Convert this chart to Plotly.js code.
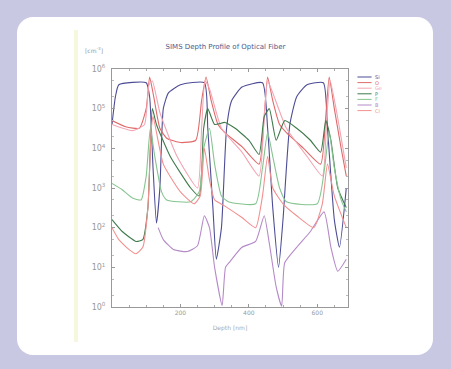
<!DOCTYPE html>
<html><head><meta charset="utf-8">
<script src="https://cdn.plot.ly/plotly-3.0.1.min.js"></script>
<style>
html,body{margin:0;padding:0;width:451px;height:369px;background:#c8c8e3;overflow:hidden}
#card{position:absolute;left:17px;top:17px;width:416px;height:338px;background:#fff;border-radius:16px}
#band{position:absolute;left:74px;top:30px;width:4px;height:312px;background:#f7f7de}
#chart{position:absolute;left:0;top:0;width:451px;height:369px}
</style></head>
<body>
<div id="card"></div><div id="band"></div>
<div id="chart"></div>
<script>
// Depth [nm] and concentration values
const siDepth = [0,10,20,100,110,120,130,140,150,165,200,270,280,295,305,320,335,350,380,440,455,470,487,500,520,540,570,618,630,650,665,685];
const siConc  = [4.0e4,2.0e5,4.0e5,4.5e5,2.0e5,3.2e3,1.3e2,1.0e3,1.0e5,2.5e5,4.0e5,4.5e5,3.2e4,3.2e2,1.6e1,1.0e2,3.2e4,1.6e5,3.5e5,4.5e5,3.2e4,3.2e2,1.0e1,1.6e2,4.0e4,2.0e5,4.0e5,4.5e5,3.2e4,1.6e2,3.2e1,1.0e3];

const oDepth = [0,40,80,100,110,122,140,160,200,245,262,275,290,310,330,380,430,445,455,470,490,510,560,610,625,635,650,670,685];
const oConc  = [5.0e4,3.5e4,3.2e4,1.0e5,6.3e5,2.0e5,3.2e4,1.8e4,1.4e4,1.6e4,1.6e5,6.3e5,1.6e5,4.0e4,2.5e4,1.1e4,4.0e3,6.3e4,6.3e5,1.6e5,4.0e4,2.5e4,1.0e4,4.0e3,6.3e4,6.3e5,1.0e5,1.0e4,2.0e3];

const geDepth = [0,60,95,108,118,140,190,250,262,272,285,320,380,430,445,455,470,510,570,615,628,638,655,685];
const geConc  = [4.0e4,2.8e4,4.0e4,4.0e5,5.0e5,8.0e4,6.3e3,1.0e3,3.2e4,5.0e5,3.2e5,3.2e4,8.0e3,2.0e3,6.3e4,5.0e5,2.5e5,3.2e4,6.3e3,2.0e3,6.3e4,5.0e5,1.0e5,3.2e3];

const pDepth = [0,30,70,90,105,112,118,130,170,230,255,268,280,300,330,360,400,430,445,460,480,505,540,580,610,625,640,660,685];
const pConc  = [1.6e2,8.0e1,4.5e1,5.0e1,3.2e2,1.0e4,1.0e5,4.0e4,6.3e3,1.0e3,6.3e2,3.2e4,1.0e5,4.0e4,4.5e4,3.2e4,1.6e4,7.0e3,6.3e4,1.0e5,1.6e4,5.0e4,3.2e4,1.6e4,8.0e3,5.0e4,1.6e4,1.0e3,3.2e2];

const fDepth = [0,30,60,85,100,112,125,145,160,230,255,268,285,300,320,340,420,440,455,470,490,510,600,620,635,650,670,685];
const fConc  = [1.3e3,9.0e2,5.6e2,5.0e2,2.0e3,3.2e4,6.3e3,8.0e2,5.0e2,4.5e2,8.0e2,1.0e4,3.2e4,4.0e3,6.3e2,4.5e2,4.0e2,3.2e3,2.5e4,6.3e3,1.0e3,4.5e2,4.0e2,2.5e3,2.5e4,3.2e3,5.0e2,2.5e2];

const bDepth = [135,150,180,220,250,270,285,300,322,332,345,380,420,445,460,480,496,505,540,580,620,640,660,685];
const bConc  = [1.0e2,5.0e1,2.8e1,2.5e1,3.5e1,2.0e2,1.0e2,1.0e1,1.1,1.0e1,1.4e1,3.2e1,4.5e1,2.0e2,4.0e1,3.2,1.05,1.3e1,3.2e1,8.0e1,2.5e2,3.2e1,8.0,1.6e1];

const clDepth = [0,20,50,70,90,105,115,120,150,200,240,258,270,285,300,330,380,420,440,455,470,500,540,590,615,630,650,685];
const clConc  = [1.0e2,5.0e1,2.8e1,2.2e1,3.2e1,3.2e2,3.2e4,6.3e4,4.0e3,8.0e2,4.0e2,6.3e2,1.0e4,1.6e3,5.0e2,3.5e2,1.8e2,1.0e2,6.3e2,6.3e3,1.0e3,4.0e2,2.0e2,1.0e2,4.0e2,4.0e3,6.3e2,1.0e2];

const seriesNames = ['Si','O','Ge','P','F','B','Cl'];
const seriesColors = ['#4d4d96','#e06a6a','#f2a6b4','#3f7a4c','#86c48f','#b58ac8','#f29090'];
const xTickVals = [200,400,600];
const xTickText = ['200','400','600'];
const yTickVals = [1,10,100,1000,10000,100000,1000000];
const yTickText = ['10<sup>0</sup>','10<sup>1</sup>','10<sup>2</sup>','10<sup>3</sup>','10<sup>4</sup>','10<sup>5</sup>','10<sup>6</sup>'];

const xs = [siDepth,oDepth,geDepth,pDepth,fDepth,bDepth,clDepth];
const ys = [siConc,oConc,geConc,pConc,fConc,bConc,clConc];
const traces = seriesNames.map((n,i)=>({
  type:'scatter', mode:'lines', name:n, x:xs[i], y:ys[i], showlegend:false,
  line:{color:seriesColors[i], width:1.1, shape:'spline', smoothing:0.5}
}));

// compact legend drawn in paper coordinates
const shapes = [], annotations = [];
const plotH = 238, plotTop = 69;
seriesNames.forEach((n,i)=>{
  const py = 77 + i*5.6;
  const yp = (plotTop + plotH - py)/plotH;
  shapes.push({type:'line', xref:'paper', yref:'paper', x0:1.04, x1:1.10, y0:yp, y1:yp, line:{color:seriesColors[i], width:1}});
  annotations.push({text:n, xref:'paper', yref:'paper', x:1.108, y:yp, xanchor:'left', yanchor:'middle', showarrow:false, font:{size:5, color:seriesColors[i]}});
});
annotations.push({text:'[cm<sup>-3</sup>]', xref:'paper', yref:'paper', x:-0.03, y:1.055, xanchor:'right', yanchor:'bottom', showarrow:false, font:{size:6, color:'#999'}});

const layout = {
  width:451, height:369,
  margin:{l:112, r:103, t:69, b:62},
  paper_bgcolor:'rgba(0,0,0,0)', plot_bgcolor:'rgba(0,0,0,0)',
  font:{family:'DejaVu Sans', size:6, color:'#999'},
  showlegend:false,
  title:{text:'SIMS Depth Profile of Optical Fiber', font:{size:7, color:'#4a5a8c', family:'DejaVu Sans'}, x:0.5, xanchor:'center', y:0.873, yanchor:'middle'},
  xaxis:{range:[0,690], tickvals:xTickVals, ticktext:xTickText, ticks:'inside', ticklen:3, tickcolor:'#999',
    tickfont:{size:6, color:'#999'},
    showline:true, linecolor:'#999', linewidth:1, mirror:'ticks', showgrid:false, zeroline:false,
    minor:{dtick:50, tick0:0, ticks:'inside', ticklen:2, tickcolor:'#aaa'},
    title:{text:'Depth [nm]', font:{size:6, color:'#aaa'}, standoff:10}},
  yaxis:{type:'log', range:[0,6], tickvals:yTickVals, ticktext:yTickText, ticks:'inside', ticklen:3, tickcolor:'#999',
    tickfont:{size:8, color:'#999'}, ticklabelstandoff:4,
    showline:true, linecolor:'#999', linewidth:1, mirror:'ticks', showgrid:false, zeroline:false,
    minor:{ticks:'inside', ticklen:2, tickcolor:'#bbb'}},
  shapes:shapes,
  annotations:annotations
};
Plotly.newPlot('chart', traces, layout, {staticPlot:true, displayModeBar:false});
</script>
</body></html>
